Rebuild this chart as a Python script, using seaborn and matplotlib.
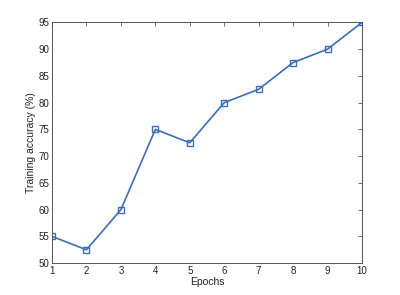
import matplotlib
matplotlib.use("Agg")
import matplotlib.pyplot as plt
import seaborn as sns
import pandas as pd

epochs = [1, 2, 3, 4, 5, 6, 7, 8, 9, 10]
accuracy = [55, 52.5, 60, 75, 72.5, 80, 82.5, 87.5, 90, 95]
xticks = [1, 2, 3, 4, 5, 6, 7, 8, 9, 10]
yticks = [50, 55, 60, 65, 70, 75, 80, 85, 90, 95]

sns.set_theme(style="white")
plt.rcParams['font.family'] = ['Liberation Sans', 'DejaVu Sans']

df = pd.DataFrame({"Epochs": epochs, "acc": accuracy})

fig = plt.figure(figsize=(4.0, 2.95), dpi=100)
ax = fig.add_axes([0.13, 0.108, 0.775, 0.816])
color = "#3d6db5"
sns.lineplot(data=df, x="Epochs", y="acc", ax=ax, color=color, linewidth=1.2,
             marker="s", markersize=4, markerfacecolor="none",
             markeredgecolor=color, markeredgewidth=1.0)

ax.set_xlim(1, 10)
ax.set_ylim(50, 95)
ax.set_xticks(xticks)
ax.set_yticks(yticks)
ax.set_xlabel("Epochs", fontsize=7.5, color="#222222", labelpad=1)
ax.set_ylabel("Training accuracy (%)", fontsize=7.5, color="#222222", labelpad=2)
ax.tick_params(direction="in", length=3, width=0.6, colors="#555555",
               labelsize=7, labelcolor="#222222", top=True, right=True, pad=2)
for s in ax.spines.values():
    s.set_color("#555555")
    s.set_linewidth(0.7)
ax.grid(False)

fig.savefig("out.png", dpi=100)
